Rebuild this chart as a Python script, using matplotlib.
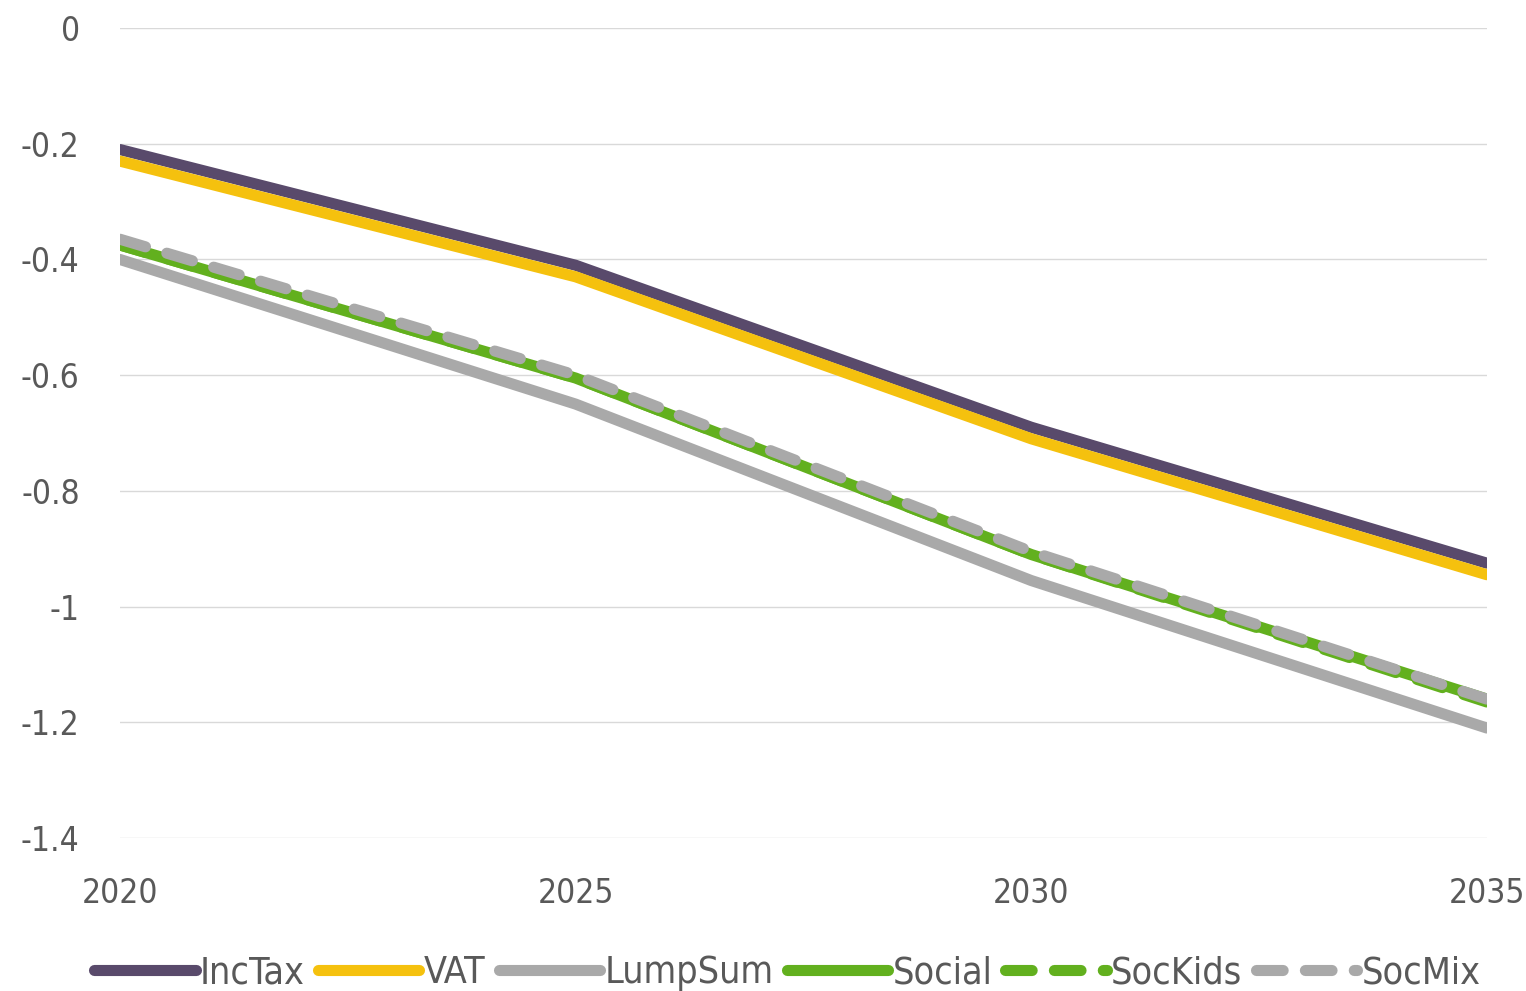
import matplotlib.pyplot as plt
from matplotlib.font_manager import FontProperties

# Years and scenario results (deviation, %)
years = [2020, 2025, 2030, 2035]
inctax = [-0.21, -0.41, -0.69, -0.925]
vat = [-0.23, -0.43, -0.71, -0.945]
lumpsum = [-0.40, -0.65, -0.955, -1.21]
social = [-0.375, -0.605, -0.91, -1.16]
sockids = [-0.375, -0.605, -0.91, -1.165]
socmix = [-0.365, -0.60, -0.905, -1.16]

yticks = [0, -0.2, -0.4, -0.6, -0.8, -1, -1.2, -1.4]
ytick_labels = ['0', '-0.2', '-0.4', '-0.6', '-0.8', '-1', '-1.2', '-1.4']
xticks = [2020, 2025, 2030, 2035]

tick_font = FontProperties(family='DejaVu Sans', stretch='condensed', size=24)
legend_font = FontProperties(family='DejaVu Sans', stretch='condensed', size=27)

fig = plt.figure(figsize=(15.26, 9.91), dpi=100)
ax = fig.add_axes([0.0786, 0.1544, 0.8958, 0.8173])

lw = 8
ax.plot(years, inctax, color='#594A6B', lw=lw, label='IncTax', solid_capstyle='round')
ax.plot(years, vat, color='#F5C10E', lw=lw, label='VAT', solid_capstyle='round')
ax.plot(years, lumpsum, color='#A9A9A9', lw=lw, label='LumpSum', solid_capstyle='round')
ax.plot(years, social, color='#62B01E', lw=lw, label='Social', solid_capstyle='round')
ax.plot(years, sockids, color='#62B01E', lw=lw, label='SocKids',
        dashes=(2.4, 2.0), dash_capstyle='round')
ax.plot(years, socmix, color='#A9A9A9', lw=lw, label='SocMix',
        dashes=(2.4, 2.0), dash_capstyle='round')

ax.set_xlim(2020, 2035)
ax.set_ylim(-1.4, 0)
ax.set_yticks(yticks)
ax.set_yticklabels(ytick_labels, fontproperties=tick_font)
ax.set_xticks(xticks)
ax.set_xticklabels([str(x) for x in xticks], fontproperties=tick_font)
ax.grid(axis='y', color='#D9D9D9', lw=1)
ax.set_axisbelow(True)
for s in ax.spines.values():
    s.set_visible(False)
ax.tick_params(axis='both', length=0, labelcolor='#595959')
ax.tick_params(axis='y', pad=29)
ax.tick_params(axis='x', pad=28)

fig.legend(loc='center', bbox_to_anchor=(0.516, 0.018), ncol=6, frameon=False,
           handlelength=2.7, handletextpad=0.12, columnspacing=0.35,
           prop=legend_font, labelcolor='#595959')

fig.savefig('out.png', dpi=100)
